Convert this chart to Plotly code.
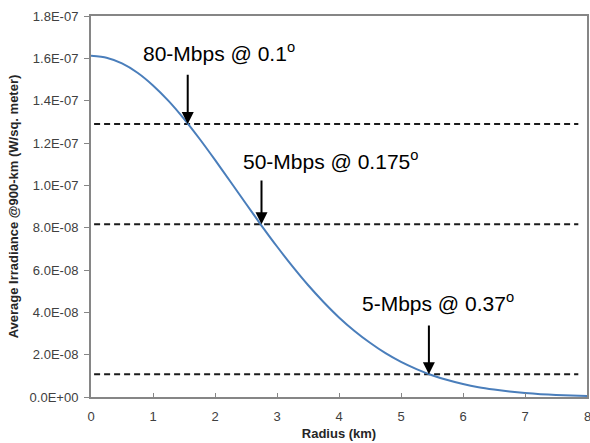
import plotly.graph_objects as go

radius_km = [0, 0.25, 0.5, 0.75, 1, 1.25, 1.5, 1.75, 2, 2.25, 2.5, 2.75, 3, 3.25, 3.5, 3.75,
             4, 4.25, 4.5, 4.75, 5, 5.25, 5.5, 5.75, 6, 6.25, 6.5, 6.75, 7, 7.25, 7.5, 7.75, 8]
irradiance = [1.612e-7, 1.603e-7, 1.576e-7, 1.532e-7, 1.472e-7, 1.399e-7, 1.314e-7, 1.220e-7,
              1.120e-7, 1.017e-7, 0.913e-7, 0.810e-7, 0.711e-7, 0.617e-7, 0.529e-7, 0.449e-7,
              0.376e-7, 0.312e-7, 0.256e-7, 0.207e-7, 0.166e-7, 0.132e-7, 0.103e-7, 0.080e-7,
              0.061e-7, 0.046e-7, 0.035e-7, 0.026e-7, 0.019e-7, 0.0135e-7, 0.010e-7, 0.007e-7,
              0.005e-7]

threshold_levels = [1.29e-7, 0.816e-7, 0.108e-7]
threshold_x_range = [0.05, 7.86]
labels = ["80-Mbps @ 0.1<sup>o</sup>", "50-Mbps @ 0.175<sup>o</sup>", "5-Mbps @ 0.37<sup>o</sup>"]
label_x = [2.07, 3.86, 5.59]
label_y = [1.63e-7, 1.12e-7, 0.449e-7]
arrow_x = [1.56, 2.75, 5.45]
arrow_tail_y = [1.53e-7, 1.03e-7, 0.345e-7]

ytick_vals = [0, 2e-8, 4e-8, 6e-8, 8e-8, 1e-7, 1.2e-7, 1.4e-7, 1.6e-7, 1.8e-7]
ytick_text = ["0.0E+00", "2.0E-08", "4.0E-08", "6.0E-08", "8.0E-08", "1.0E-07",
              "1.2E-07", "1.4E-07", "1.6E-07", "1.8E-07"]
xtick_vals = [0, 1, 2, 3, 4, 5, 6, 7, 8]

fig = go.Figure()
for lvl in threshold_levels:
    fig.add_trace(go.Scatter(x=threshold_x_range, y=[lvl, lvl], mode="lines",
                             line=dict(color="#1a1a1a", width=2, dash="6px,4px"),
                             showlegend=False, hoverinfo="skip"))
fig.add_trace(go.Scatter(x=radius_km, y=irradiance, mode="lines",
                         line=dict(color="#4a7ebb", width=2, shape="spline", smoothing=0.6),
                         showlegend=False))

annotations = []
for i in range(3):
    annotations.append(dict(x=label_x[i], y=label_y[i], xref="x", yref="y", text=labels[i],
                            showarrow=False, font=dict(family="Liberation Sans, Arial", size=21, color="#000000")))
    annotations.append(dict(x=arrow_x[i], y=threshold_levels[i], ax=arrow_x[i], ay=arrow_tail_y[i],
                            xref="x", yref="y", axref="x", ayref="y", text="", showarrow=True,
                            arrowhead=2, arrowsize=1.2, arrowwidth=2, arrowcolor="#000000", standoff=0))
# last x tick label, which sits on the right edge of the page
annotations.append(dict(x=xtick_vals[-1], y=0, xref="x", yref="paper", yshift=-19, text=str(xtick_vals[-1]),
                        showarrow=False, xanchor="center", yanchor="middle",
                        font=dict(family="Liberation Sans, Arial", size=13, color="#404040")))

fig.update_layout(
    width=590, height=443,
    margin=dict(l=91, r=1, t=16, b=46),
    paper_bgcolor="white", plot_bgcolor="white",
    font=dict(family="Liberation Sans, Arial", size=13, color="#404040"),
    annotations=annotations,
    xaxis=dict(range=[0, 8], tickvals=xtick_vals[:-1], ticks="inside", ticklen=4, tickcolor="#868686",
               ticklabelstandoff=6,
               showline=True, linecolor="#868686", linewidth=2, mirror=True, showgrid=False, zeroline=False,
               title=dict(text="<b>Radius (km)</b>", font=dict(size=13, color="#262626"), standoff=6)),
    yaxis=dict(range=[0, 1.8e-7], tickvals=ytick_vals, ticktext=ytick_text, ticks="outside", ticklen=5,
               tickcolor="#868686", ticklabelstandoff=3, showline=True, linecolor="#868686", linewidth=2, mirror=True,
               showgrid=False, zeroline=False,
               title=dict(text="<b>Average Irradiance @900-km (W/sq. meter)</b>", font=dict(size=13, color="#262626"), standoff=8)),
)
fig.write_html("out.html")
